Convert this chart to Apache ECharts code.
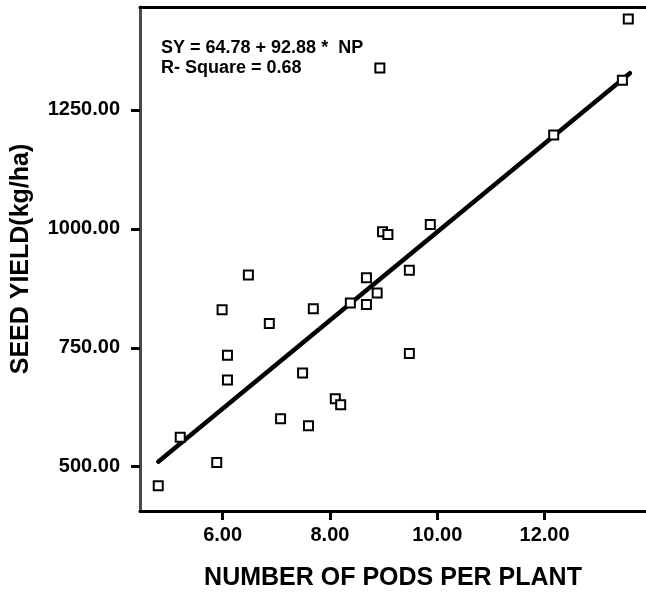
<!DOCTYPE html>
<html>
<head>
<meta charset="utf-8">
<script src="https://cdn.jsdelivr.net/npm/echarts@6/dist/echarts.min.js"></script>
<style>
  html, body { margin: 0; padding: 0; background: #fff; }
  #chartmain { width: 646px; height: 596px; }
</style>
</head>
<body>
<div id="chartmain"></div>
<script>
// pods per plant (x) and seed yield kg/ha (y)
var podsPerPlant = [4.80, 5.21, 5.89, 5.99, 6.09, 6.09, 6.48, 6.87, 7.08, 7.49, 7.60, 7.69, 8.10, 8.20,
  8.38, 8.68, 8.68, 8.88, 8.93, 8.98, 9.08, 9.48, 9.48, 9.87, 12.17, 13.45, 13.56];
var seedYield = [460, 562, 509, 830, 734, 682, 903, 801, 601, 697, 586, 832, 643, 630,
  844, 841, 897, 865, 1338, 994, 988, 913, 738, 1009, 1197, 1312, 1441];

// fitted line SY = 64.78 + 92.88 * NP
var intercept = 64.78;
var slope = 92.88;
var fitRange = [4.80, 13.59];

var xTicks = [6, 8, 10, 12];
var yTicks = [500, 750, 1000, 1250];

var font = "'Liberation Sans', Arial, sans-serif";

var points = [];
for (var i = 0; i < podsPerPlant.length; i++) {
  points.push([podsPerPlant[i], seedYield[i]]);
}
var fitLine = fitRange.map(function (x) { return [x, intercept + slope * x]; });

var chart = echarts.init(document.getElementById('chartmain'));
chart.setOption({
  animation: false,
  backgroundColor: '#fff',
  grid: { left: 140, right: 0, top: 7, bottom: 80 },
  xAxis: [
    {
      type: 'value',
      min: 4.46,
      max: 13.89,
      splitLine: { show: false },
      axisLine: { lineStyle: { color: '#000', width: 3 } },
      axisTick: { customValues: xTicks, length: 9, lineStyle: { color: '#000', width: 3 } },
      axisLabel: {
        customValues: xTicks,
        margin: 14,
        color: '#000',
        fontFamily: font,
        fontWeight: 'bold',
        fontSize: 20,
        formatter: function (v) { return v.toFixed(2); }
      },
      name: 'NUMBER OF PODS PER PLANT',
      nameLocation: 'middle',
      nameGap: 55,
      nameTextStyle: { color: '#000', fontFamily: font, fontWeight: 'bold', fontSize: 25 }
    },
    {
      // top border only
      type: 'value',
      position: 'top',
      min: 4.46,
      max: 13.89,
      splitLine: { show: false },
      axisLine: { show: true, onZero: false, lineStyle: { color: '#000', width: 3 } },
      axisTick: { show: false },
      axisLabel: { show: false }
    }
  ],
  yAxis: {
    type: 'value',
    min: 407,
    max: 1466,
    splitLine: { show: false },
    axisLine: { show: true, lineStyle: { color: '#4a4a4a', width: 3 } },
    axisTick: { show: true, customValues: yTicks, length: 9, lineStyle: { color: '#000', width: 3 } },
    axisLabel: {
      customValues: yTicks,
      margin: 20,
      color: '#000',
      fontFamily: font,
      fontWeight: 'bold',
      fontSize: 20,
      formatter: function (v) { return v.toFixed(2); }
    },
    name: 'SEED YIELD(kg/ha)',
    nameLocation: 'middle',
    nameRotate: 90,
    nameGap: 106,
    nameTextStyle: { color: '#000', fontFamily: font, fontWeight: 'bold', fontSize: 25 }
  },
  graphic: [
    {
      type: 'text',
      left: 161,
      top: 38,
      style: {
        text: 'SY = 64.78 + 92.88 *  NP\nR- Square = 0.68',
        fill: '#000',
        font: 'bold 18px ' + font,
        lineHeight: 20
      }
    }
  ],
  series: [
    {
      type: 'line',
      data: fitLine,
      symbol: 'none',
      lineStyle: { color: '#000', width: 4.5, cap: 'round' },
      z: 2
    },
    {
      type: 'scatter',
      data: points,
      symbol: 'rect',
      symbolSize: 9,
      itemStyle: { color: '#fff', borderColor: '#000', borderWidth: 2, opacity: 1 },
      z: 3
    }
  ]
});
</script>
</body>
</html>
